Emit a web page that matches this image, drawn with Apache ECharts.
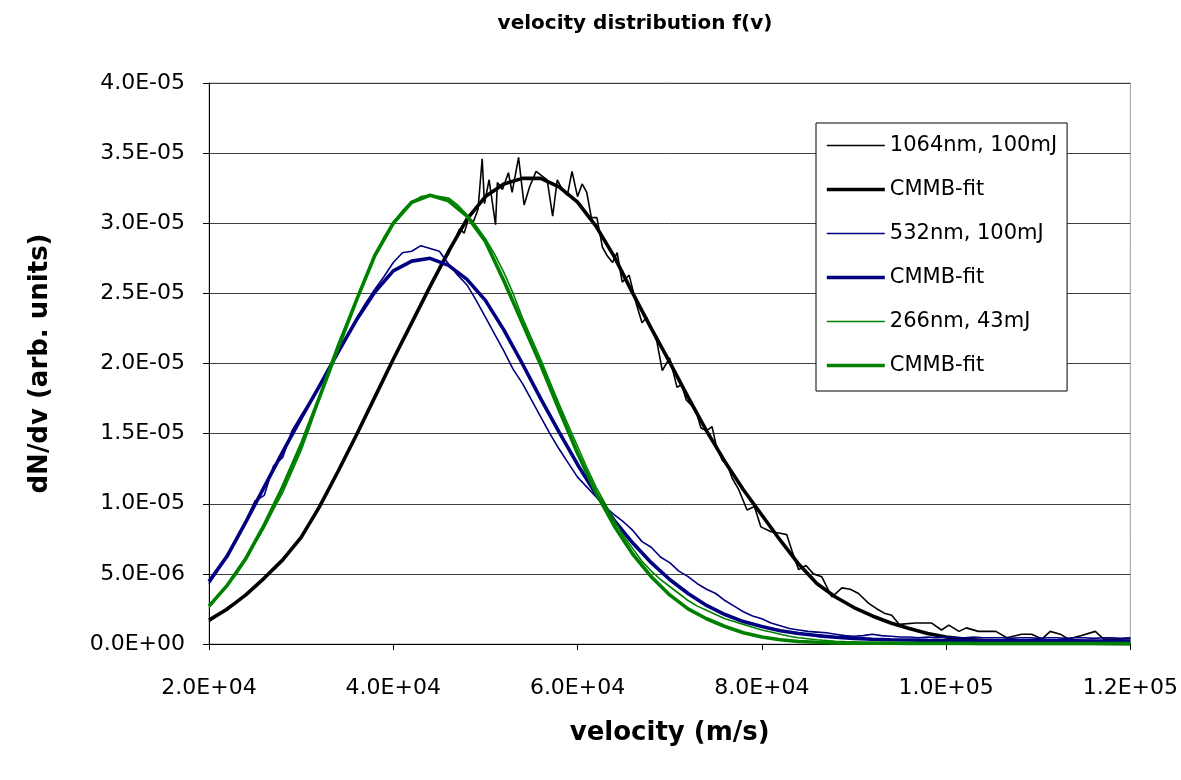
<!DOCTYPE html>
<html>
<head>
<meta charset="utf-8">
<script src="https://cdn.jsdelivr.net/npm/echarts@6/dist/echarts.min.js"></script>
<style>
  html, body { margin: 0; padding: 0; background: #ffffff; }
  #chart { width: 1181px; height: 780px; }
</style>
</head>
<body>
<div id="chart"></div>
<script>
// Velocity distributions f(v) = dN/dv, values in units of 1E-06 (arb. units).

// Fit curves are sampled every 2000 m/s from 20000 to 120000 m/s.
const fitStart = 20000;
const fitStep = 2000;

const fit1064 = [1.7, 2.5, 3.5, 4.7, 6.0, 7.6, 9.8, 12.3, 14.9, 17.6, 20.3, 22.9, 25.5, 28.0, 30.3,
  31.9, 32.8, 33.2, 33.2, 32.6, 31.5, 29.8, 27.6, 25.0, 22.5, 20.1, 17.6, 15.2, 13.0, 11.0,
  9.2, 7.4, 5.7, 4.3, 3.35, 2.6, 2.0, 1.5, 1.1, 0.75, 0.5, 0.35, 0.25, 0.18, 0.13,
  0.1, 0.08, 0.06, 0.05, 0.04, 0.03];

const fit532 = [4.45, 6.3, 8.7, 11.2, 13.7, 16.1, 18.4, 20.8, 23.1, 25.1, 26.6, 27.3, 27.5, 27.0, 26.0,
  24.5, 22.4, 20.0, 17.5, 15.1, 12.8, 10.7, 8.8, 7.2, 5.8, 4.6, 3.6, 2.75, 2.1, 1.6,
  1.25, 0.95, 0.75, 0.6, 0.48, 0.4, 0.34, 0.3, 0.28, 0.26, 0.25, 0.24, 0.24, 0.23, 0.23,
  0.22, 0.22, 0.22, 0.21, 0.21, 0.21];

const fit266 = [2.7, 4.2, 6.1, 8.5, 11.2, 14.2, 17.6, 21.1, 24.5, 27.7, 30.0, 31.5, 32.0, 31.6, 30.5,
  28.7, 25.9, 22.9, 19.9, 16.7, 13.6, 10.8, 8.4, 6.4, 4.8, 3.5, 2.5, 1.8, 1.25, 0.8,
  0.5, 0.3, 0.18, 0.12, 0.08, 0.06, 0.05, 0.05, 0.04, 0.04, 0.04, 0.04, 0.03, 0.03, 0.03,
  0.03, 0.03, 0.03, 0.03, 0.03, 0.03];

// Measured 532 nm and 266 nm curves, every 1000 m/s from 20000 to 120000 m/s.
const dataStart = 20000;
const dataStep = 1000;

const data532 = [4.3, 5.3, 6.3, 7.4, 8.8, 10.2, 10.6, 12.7, 13.3, 15.2,
  16.3, 17.3, 18.5, 19.7, 20.9, 22.0, 23.2, 24.3, 25.3, 26.2,
  27.2, 27.9, 28.0, 28.4, 28.2, 28.0, 27.1, 26.3, 25.6, 24.5,
  23.3, 22.1, 20.9, 19.6, 18.6, 17.4, 16.2, 15.0, 13.9, 12.9,
  11.9, 11.2, 10.5, 9.8, 9.2, 8.7, 8.1, 7.3, 6.9, 6.2,
  5.8, 5.2, 4.8, 4.3, 3.9, 3.6, 3.1, 2.7, 2.3, 2.0,
  1.8, 1.5, 1.3, 1.1, 1.0, 0.9, 0.85, 0.8, 0.7, 0.6,
  0.55, 0.6, 0.7, 0.6, 0.55, 0.5, 0.5, 0.45, 0.5, 0.45,
  0.5, 0.45, 0.45, 0.5, 0.45, 0.45, 0.45, 0.4, 0.45, 0.45,
  0.4, 0.45, 0.45, 0.4, 0.45, 0.45, 0.4, 0.45, 0.45, 0.4,
  0.45];

const data266 = [2.6, 3.4, 4.2, 5.0, 6.0, 7.2, 8.3, 9.6, 10.8, 12.3,
  13.8, 15.6, 17.5, 19.6, 21.4, 23.0, 24.6, 26.2, 27.7, 29.0,
  30.0, 30.9, 31.5, 31.9, 32.0, 31.9, 31.8, 31.3, 30.6, 29.8,
  28.9, 27.8, 26.5, 25.0, 23.3, 21.8, 20.3, 18.7, 17.1, 15.6,
  14.1, 12.6, 11.2, 10.0, 8.8, 7.7, 6.8, 5.9, 5.2, 4.6,
  4.1, 3.6, 3.1, 2.7, 2.4, 2.1, 1.8, 1.6, 1.4, 1.2,
  1.0, 0.85, 0.7, 0.55, 0.45, 0.38, 0.3, 0.25, 0.2, 0.17,
  0.15, 0.13, 0.12, 0.12, 0.11, 0.11, 0.1, 0.1, 0.1, 0.1,
  0.1, 0.1, 0.1, 0.09, 0.09, 0.09, 0.09, 0.09, 0.09, 0.09,
  0.09, 0.09, 0.09, 0.09, 0.09, 0.09, 0.09, 0.09, 0.09, 0.09,
  0.09];

// Measured 1064 nm curve: [velocity (m/s), f(v)], denser where the signal is noisy.
const data1064 = [
  [20000, 1.6], [21000, 2.1], [22000, 2.6], [23000, 3.0], [24000, 3.5], [25000, 4.1],
  [26000, 4.7], [27000, 5.4], [28000, 6.0], [29000, 6.8], [30000, 7.6], [31000, 8.7],
  [32000, 9.9], [33000, 11.0], [34000, 12.3], [35000, 13.6], [36000, 14.9], [37000, 16.2],
  [38000, 17.6], [39000, 19.0], [40000, 20.3], [41000, 21.6], [42000, 22.9], [43000, 24.2],
  [44000, 25.5], [45000, 26.8], [46000, 27.8], [46600, 28.7], [47200, 29.6], [47700, 29.3],
  [48200, 30.4], [48700, 30.1], [49200, 31.0], [49650, 34.6], [49900, 31.4], [50400, 33.1],
  [51100, 29.9], [51300, 32.9], [51850, 32.4], [52500, 33.6], [52900, 32.2], [53600, 34.7],
  [54200, 31.3], [54800, 32.6], [55500, 33.7], [56100, 33.4], [56700, 33.1], [57300, 30.5],
  [57800, 33.1], [58350, 32.4], [58900, 32.0], [59400, 33.7], [60000, 31.9], [60500, 32.8],
  [61000, 32.2], [61500, 30.4], [62100, 30.4], [62700, 28.3], [63200, 27.7], [63800, 27.2],
  [64300, 27.9], [64850, 25.8], [65600, 26.3], [66400, 24.2], [67000, 22.9], [67500, 23.3],
  [68000, 22.5], [68600, 21.6], [69200, 19.5], [70000, 20.4], [70800, 18.3], [71300, 18.5],
  [71800, 17.4], [72400, 17.0], [72900, 16.5], [73400, 15.4], [74000, 15.2], [74600, 15.5],
  [75000, 14.3], [75700, 13.1], [76300, 12.7], [76800, 11.8], [77500, 11.0], [78400, 9.55],
  [79200, 9.8], [79900, 8.35], [81000, 8.0], [82000, 7.9], [82700, 7.8], [83300, 6.6],
  [84000, 5.3], [84800, 5.6], [85600, 5.0], [86500, 4.8], [87600, 3.35], [88700, 4.0],
  [89600, 3.9], [90500, 3.6], [91600, 2.9], [92500, 2.5], [93300, 2.2], [94100, 2.05],
  [94900, 1.4], [96700, 1.5], [98400, 1.5], [99500, 1.0], [100300, 1.35], [101400, 0.9],
  [102200, 1.15], [103500, 0.9], [105400, 0.9], [106600, 0.45], [108200, 0.7], [109300, 0.7],
  [110400, 0.35], [111300, 0.9], [112400, 0.7], [113300, 0.35], [114700, 0.6], [116200, 0.9],
  [117100, 0.35], [118500, 0.35], [120000, 0.4]
];

// Axis ranges (y in units of 1E-06)
const xMin = 20000, xMax = 120000, xInterval = 20000;
const yMin = 0, yMax = 40, yInterval = 5;
const yUnit = 1e-6;

function sci(x) {
  if (x === 0) return '0.0E+00';
  let e = Math.floor(Math.log10(Math.abs(x)) + 1e-9);
  let m = x / Math.pow(10, e);
  if (Math.round(m * 10) / 10 >= 10) { m /= 10; e += 1; }
  return m.toFixed(1) + 'E' + (e < 0 ? '-' : '+') + String(Math.abs(e)).padStart(2, '0');
}

function onGrid(values, start, step) {
  return values.map((v, i) => [start + i * step, v]);
}

const BLACK = '#000000', NAVY = '#000080', GREEN = '#008000';
const thin = 1.6, thick = 3.6;

function line(name, data, color, width) {
  return {
    name: name, type: 'line', data: data, symbol: 'none', smooth: false,
    color: color, lineStyle: { color: color, width: width },
    animation: false, clip: true
  };
}

const series = [
  line('1064nm, 100mJ', data1064, BLACK, thin),
  line('CMMB-fit 1064nm', onGrid(fit1064, fitStart, fitStep), BLACK, thick),
  line('532nm, 100mJ', onGrid(data532, dataStart, dataStep), NAVY, thin),
  line('CMMB-fit 532nm', onGrid(fit532, fitStart, fitStep), NAVY, thick),
  line('266nm, 43mJ', onGrid(data266, dataStart, dataStep), GREEN, thin),
  line('CMMB-fit 266nm', onGrid(fit266, fitStart, fitStep), GREEN, thick)
];

const FONT = 'DejaVu Sans';
const chart = echarts.init(document.getElementById('chart'), null, { renderer: 'canvas' });
chart.setOption({
  backgroundColor: '#ffffff',
  animation: false,
  title: {
    text: 'velocity distribution f(v)',
    left: 630, top: 9, textAlign: 'center',
    textStyle: { fontFamily: FONT, fontSize: 20, fontWeight: 'bold', color: '#000' }
  },
  grid: {
    left: 209, right: 49, top: 83, bottom: 136,
    show: true, borderColor: '#a0a0a0', borderWidth: 1, backgroundColor: 'transparent'
  },
  legend: {
    orient: 'vertical', left: 816, top: 123,
    padding: [12, 10, 15, 9],
    itemWidth: 58, itemHeight: 20, itemGap: 23,
    borderColor: '#000', borderWidth: 1, backgroundColor: '#fff',
    itemStyle: { opacity: 0 },
    lineStyle: { width: 'inherit' },
    textStyle: { fontFamily: FONT, fontSize: 21, color: '#000', lineHeight: 20 },
    formatter: n => n.indexOf('CMMB-fit') === 0 ? 'CMMB-fit' : n,
    data: series.map(s => s.name)
  },
  xAxis: {
    type: 'value', min: xMin, max: xMax, interval: xInterval,
    name: 'velocity (m/s)', nameLocation: 'middle', nameGap: 76,
    nameTextStyle: { fontFamily: FONT, fontSize: 26, fontWeight: 'bold', color: '#000' },
    axisLine: { show: true, onZero: false, lineStyle: { color: '#000', width: 1 } },
    axisTick: { show: true, inside: false, length: 6, lineStyle: { color: '#000' } },
    axisLabel: { margin: 33, fontFamily: FONT, fontSize: 22, color: '#000', formatter: v => sci(v) },
    splitLine: { show: false }
  },
  yAxis: {
    type: 'value', min: yMin, max: yMax, interval: yInterval,
    name: 'dN/dv (arb. units)', nameLocation: 'middle', nameGap: 156,
    nameTextStyle: { fontFamily: FONT, fontSize: 26, fontWeight: 'bold', color: '#000' },
    axisLine: { show: true, lineStyle: { color: '#000', width: 1 } },
    axisTick: { show: true, inside: false, length: 6, lineStyle: { color: '#000' } },
    axisLabel: { margin: 24, fontFamily: FONT, fontSize: 22, color: '#000', formatter: v => sci(v * yUnit) },
    splitLine: { show: true, lineStyle: { color: '#404040', width: 1 } }
  },
  series: series
});
</script>
</body>
</html>
